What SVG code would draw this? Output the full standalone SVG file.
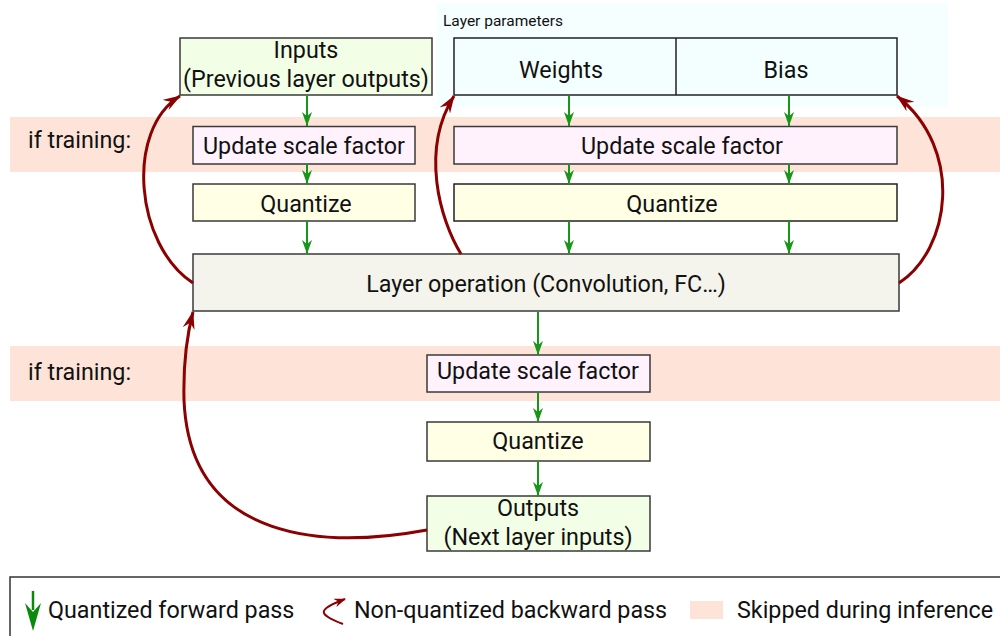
<svg xmlns="http://www.w3.org/2000/svg" width="1000" height="636" viewBox="0 0 1000 636">
<defs>
<style>
text{font-family:Roboto,"Liberation Sans",sans-serif;fill:#111;}
.t{font-size:23.3px;text-anchor:middle;}
.big{font-size:23.3px;}
.box{stroke:#3a3a3a;stroke-width:1.5;}
.fw{stroke:#17961a;stroke-width:2;fill:none;marker-end:url(#ga);}
.bw{stroke:#8b0000;stroke-width:3;fill:none;marker-end:url(#ra);}
.band{fill:#fee4d8;}
</style>
<marker id="ga" markerUnits="userSpaceOnUse" viewBox="0 0 14 10" markerWidth="14" markerHeight="10" refX="14" refY="5" orient="auto">
<path d="M0,0 L14,5 L0,10 L4,5 z" fill="#17961a"/>
</marker>
<marker id="ra" markerUnits="userSpaceOnUse" viewBox="0 0 18 12" markerWidth="18" markerHeight="12" refX="17" refY="6" orient="auto">
<path d="M0,0 L18,6 L0,12 L6,6 z" fill="#8b0000"/>
</marker>
<marker id="ras" markerUnits="userSpaceOnUse" viewBox="0 0 12 9" markerWidth="12" markerHeight="9" refX="11" refY="4.5" orient="auto">
<path d="M0,0 L12,4.5 L0,9 L4,4.5 z" fill="#8b0000"/>
</marker>
</defs>
<rect width="1000" height="636" fill="#ffffff"/>
<g id="backgrounds">
<rect x="437" y="3" width="511" height="104" fill="#f5ffff"/>
<rect class="band" x="10" y="117" width="990" height="55"/>
<rect class="band" x="10" y="346" width="990" height="55"/>
<text x="443" y="26" style="font-size:15.5px">Layer parameters</text>
<text class="big" x="28" y="148">if training:</text>
<text class="big" x="28" y="380">if training:</text>
</g>
<g id="inputs">
<rect class="box" x="180" y="38" width="252" height="57" fill="#f2ffe6"/>
<text class="t" x="306" y="58">Inputs</text>
<text class="t" x="306" y="87">(Previous layer outputs)</text>
</g>
<g id="params">
<rect class="box" x="454" y="38" width="443" height="57" fill="#f3ffff" style="stroke:#222"/>
<line x1="676" y1="38" x2="676" y2="95" stroke="#222" stroke-width="1.5"/>
<text class="t" x="561" y="78">Weights</text>
<text class="t" x="786" y="78">Bias</text>
</g>
<g id="update-in">
<rect class="box" x="193" y="126.5" width="222" height="37.5" fill="#fff2fd"/>
<text class="t" x="304" y="154">Update scale factor</text>
</g>
<g id="update-params">
<rect class="box" x="454" y="126.5" width="443" height="37.5" fill="#fff2fd"/>
<text class="t" x="682" y="154">Update scale factor</text>
</g>
<g id="quantize-in">
<rect class="box" x="193" y="184" width="222" height="37" fill="#ffffe6"/>
<text class="t" x="306" y="212">Quantize</text>
</g>
<g id="quantize-params">
<rect class="box" x="454" y="184" width="443" height="37" fill="#ffffe6" style="stroke:#222"/>
<text class="t" x="672" y="212">Quantize</text>
</g>
<g id="layer-op">
<rect class="box" x="193" y="254" width="706" height="57" fill="#f4f4ec"/>
<text class="t" x="546" y="292">Layer operation (Convolution, FC…)</text>
</g>
<g id="update-out">
<rect class="box" x="427" y="355" width="223" height="37" fill="#fff2fd"/>
<text class="t" x="538" y="379">Update scale factor</text>
</g>
<g id="quantize-out">
<rect class="box" x="427" y="422" width="223" height="39" fill="#ffffe6"/>
<text class="t" x="538" y="449">Quantize</text>
</g>
<g id="outputs">
<rect class="box" x="427" y="496" width="223" height="55" fill="#f2ffe6"/>
<text class="t" x="538" y="516">Outputs</text>
<text class="t" x="538" y="545">(Next layer inputs)</text>
</g>
<g id="connectors">
<line class="fw" x1="307" y1="96" x2="307" y2="126"/>
<line class="fw" x1="307" y1="164" x2="307" y2="184"/>
<line class="fw" x1="307" y1="221" x2="307" y2="254"/>
<line class="fw" x1="569" y1="96" x2="569" y2="126"/>
<line class="fw" x1="569" y1="164" x2="569" y2="184"/>
<line class="fw" x1="569" y1="221" x2="569" y2="254"/>
<line class="fw" x1="789" y1="96" x2="789" y2="126"/>
<line class="fw" x1="789" y1="164" x2="789" y2="184"/>
<line class="fw" x1="789" y1="221" x2="789" y2="254"/>
<line class="fw" x1="538" y1="312" x2="538" y2="355"/>
<line class="fw" x1="538" y1="392" x2="538" y2="422"/>
<line class="fw" x1="538" y1="461" x2="538" y2="496"/>
<path class="bw" d="M193,283 C135,245 125,130 180,96"/>
<path class="bw" d="M461,254 C440,220 420,150 454,96"/>
<path class="bw" d="M899,283 C950,250 965,150 897,96"/>
<path class="bw" d="M427,530 C330,548 190,545 184,400 C183,360 187,335 193,312"/>
</g>
<g id="legend">
<rect x="10" y="577" width="1000" height="70" fill="#ffffff" stroke="#333" stroke-width="1.5"/>
<line x1="33" y1="591" x2="33" y2="610" stroke="#0a8a0a" stroke-width="2.5"/>
<path d="M25,603 L33,631 L41,603 L33,612 z" fill="#0a8a0a"/>
<text class="big" x="48" y="618">Quantized forward pass</text>
<path d="M343,624 C318,614 316,610 345,599" fill="none" stroke="#8b0000" stroke-width="2" marker-end="url(#ras)"/>
<text class="big" x="354" y="618">Non-quantized backward pass</text>
<rect x="690" y="601" width="33" height="18" class="band"/>
<text class="big" x="737" y="618">Skipped during inference</text>
</g>
</svg>
